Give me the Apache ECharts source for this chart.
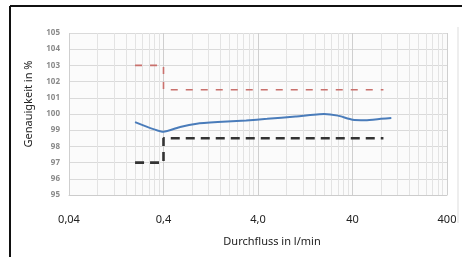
<!DOCTYPE html>
<html>
<head>
<meta charset="utf-8">
<script src="https://cdn.jsdelivr.net/npm/echarts@6/dist/echarts.min.js"></script>
<style>
html, body { margin: 0; padding: 0; background: #fff; }
#chart { width: 467px; height: 257px; }
</style>
</head>
<body>
<div id="chart"></div>
<script>
// Durchfluss in l/min (x) / Genauigkeit in % (y)
const upperLimitX = [0.2, 0.4, 0.4, 85];
const upperLimitY = [103, 103, 101.5, 101.5];
const lowerLimitX = [0.2, 0.4, 0.4, 85];
const lowerLimitY = [97, 97, 98.5, 98.5];
const measuredX = [0.2, 0.4, 0.6, 0.9, 1.5, 3, 5, 10, 20, 28, 40, 55, 80, 103];
const measuredY = [99.5, 98.9, 99.2, 99.4, 99.5, 99.6, 99.7, 99.85, 100.0, 99.9, 99.65, 99.62, 99.7, 99.75];
const xTickLabels = ['0,04', '0,4', '4,0', '40', '400'];
const xMin = 0.04, xMax = 400;
const yMin = 95, yMax = 105;

// the log axis starts its decades at 1, so flow values are scaled by 1/xMin
const k = 1 / xMin;
const pairs = (xs, ys) => xs.map((x, i) => [x * k, ys[i]]);

// minor vertical grid lines at 2..9 of each decade
const minorLines = [];
for (let d = xMin; d < xMax; d *= 10) {
    for (let m = 2; m <= 9; m++) minorLines.push({ xAxis: d * m * k });
}

const chart = echarts.init(document.getElementById('chart'));
chart.setOption({
    animation: false,
    textStyle: { fontFamily: 'Noto Sans' },
    grid: { left: 69, right: 20, top: 33, bottom: 62, show: true, backgroundColor: '#fbfbfb', borderWidth: 0 },
    graphic: [
        { type: 'line', shape: { x1: 10, y1: 6, x2: 462, y2: 6 }, style: { stroke: '#111', lineWidth: 2 } },
        { type: 'line', shape: { x1: 10, y1: 6, x2: 10, y2: 257 }, style: { stroke: '#111', lineWidth: 2 } },
        { type: 'line', shape: { x1: 458, y1: 27, x2: 458, y2: 223 }, style: { stroke: '#ddd', lineWidth: 1 } }
    ],
    xAxis: {
        type: 'log',
        logBase: 10,
        min: xMin * k,
        max: xMax * k,
        name: 'Durchfluss in l/min',
        nameLocation: 'middle',
        nameGap: 41,
        nameTextStyle: { fontSize: 11, color: '#222', padding: [0, 0, 0, 28] },
        axisLine: { show: true, lineStyle: { color: '#ccc' } },
        axisTick: { show: false },
        axisLabel: {
            fontSize: 11,
            color: '#222',
            margin: 19,
            formatter: v => xTickLabels[Math.round(Math.log10(v))]
        },
        splitLine: { show: true, lineStyle: { color: '#cfcfcf', width: 1 } }
    },
    yAxis: {
        type: 'value',
        min: yMin,
        max: yMax,
        interval: 1,
        name: 'Genauigkeit in %',
        nameLocation: 'middle',
        nameGap: 35,
        nameTextStyle: { fontSize: 11, color: '#222', padding: [0, 0, 0, 20] },
        axisLine: { show: false },
        axisTick: { show: false },
        axisLabel: { fontSize: 8, color: '#8a8a8a', margin: 9, fontWeight: 'bold' },
        splitLine: { show: true, lineStyle: { color: '#dadada', width: 1 } }
    },
    series: [
        {
            // minor grid, kept under the data lines
            type: 'line',
            data: [],
            silent: true,
            z: 0,
            markLine: {
                silent: true,
                z: 0,
                symbol: 'none',
                label: { show: false },
                lineStyle: { color: '#e3e3e3', type: 'solid', width: 1 },
                data: minorLines
            }
        },
        {
            name: 'oben',
            type: 'line',
            z: 5,
            data: pairs(upperLimitX, upperLimitY),
            showSymbol: false,
            lineStyle: { color: '#c9706c', width: 1.6, type: [7, 8], cap: 'butt' }
        },
        {
            name: 'unten',
            type: 'line',
            z: 5,
            data: pairs(lowerLimitX, lowerLimitY),
            showSymbol: false,
            lineStyle: { color: '#333', width: 2.6, type: [9, 6], cap: 'butt' }
        },
        {
            name: 'Messung',
            type: 'line',
            z: 6,
            data: pairs(measuredX, measuredY),
            smooth: 0.15,
            showSymbol: false,
            lineStyle: { color: '#4a7cba', width: 2 }
        }
    ]
});
</script>
</body>
</html>
